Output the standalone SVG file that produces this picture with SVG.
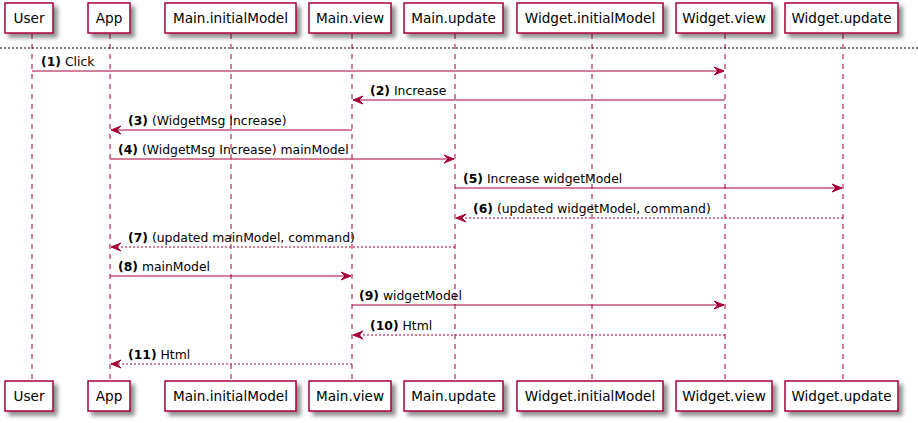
<svg xmlns="http://www.w3.org/2000/svg" width="918" height="423" viewBox="0 0 918 423">
<defs>
<filter id="sh" x="-20%" y="-20%" width="150%" height="160%">
<feGaussianBlur in="SourceAlpha" stdDeviation="2"/>
<feOffset dx="4" dy="4" result="b"/>
<feComponentTransfer><feFuncA type="linear" slope="0.45"/></feComponentTransfer>
<feMerge><feMergeNode/><feMergeNode in="SourceGraphic"/></feMerge>
</filter>
<marker id="ah" viewBox="0 0 11 10" refX="10" refY="5" markerWidth="11" markerHeight="10" markerUnits="userSpaceOnUse" orient="auto">
<polygon points="0,1 10,5 0,9 4,5" fill="#A80036" stroke="#A80036" stroke-width="1"/>
</marker>
</defs>
<style>
.box{fill:#FFFFFF;stroke:#A80036;stroke-width:1.5;filter:url(#sh)}
.pt{font-family:"DejaVu Sans",sans-serif;font-size:13.6px;fill:#000;text-anchor:middle}
.life{stroke:#A80036;stroke-width:1;stroke-dasharray:5,5}
.msg{stroke:#A80036;stroke-width:1;fill:none;marker-end:url(#ah)}
.ret{stroke-dasharray:2,2}
.ml{font-family:"DejaVu Sans",sans-serif;font-size:12.4px;fill:#000}
.ml tspan.n{font-weight:bold}
</style>
<rect width="918" height="423" fill="#FFFFFF"/>
<g id="lifelines">
<line class="life" x1="32" y1="34" x2="32" y2="381"/>
<line class="life" x1="110" y1="34" x2="110" y2="381"/>
<line class="life" x1="231" y1="34" x2="231" y2="381"/>
<line class="life" x1="352" y1="34" x2="352" y2="381"/>
<line class="life" x1="455" y1="34" x2="455" y2="381"/>
<line class="life" x1="592" y1="34" x2="592" y2="381"/>
<line class="life" x1="725" y1="34" x2="725" y2="381"/>
<line class="life" x1="843" y1="34" x2="843" y2="381"/>
</g>
<line x1="0" y1="48" x2="918" y2="48" stroke="#000" stroke-width="1" stroke-dasharray="2,2"/>
<g id="User">
<rect class="box" x="5" y="3" width="48" height="30"/><text class="pt" x="29" y="23">User</text>
<rect class="box" x="5" y="381" width="48" height="30"/><text class="pt" x="29" y="401">User</text>
</g>
<g id="App">
<rect class="box" x="88" y="3" width="42" height="30"/><text class="pt" x="109" y="23">App</text>
<rect class="box" x="88" y="381" width="42" height="30"/><text class="pt" x="109" y="401">App</text>
</g>
<g id="Main.initialModel">
<rect class="box" x="165" y="3" width="131" height="30"/><text class="pt" x="230.5" y="23">Main.initialModel</text>
<rect class="box" x="165" y="381" width="131" height="30"/><text class="pt" x="230.5" y="401">Main.initialModel</text>
</g>
<g id="Main.view">
<rect class="box" x="309" y="3" width="82" height="30"/><text class="pt" x="350" y="23">Main.view</text>
<rect class="box" x="309" y="381" width="82" height="30"/><text class="pt" x="350" y="401">Main.view</text>
</g>
<g id="Main.update">
<rect class="box" x="404" y="3" width="99" height="30"/><text class="pt" x="453.5" y="23">Main.update</text>
<rect class="box" x="404" y="381" width="99" height="30"/><text class="pt" x="453.5" y="401">Main.update</text>
</g>
<g id="Widget.initialModel">
<rect class="box" x="517" y="3" width="146" height="30"/><text class="pt" x="590" y="23">Widget.initialModel</text>
<rect class="box" x="517" y="381" width="146" height="30"/><text class="pt" x="590" y="401">Widget.initialModel</text>
</g>
<g id="Widget.view">
<rect class="box" x="676" y="3" width="96" height="30"/><text class="pt" x="724" y="23">Widget.view</text>
<rect class="box" x="676" y="381" width="96" height="30"/><text class="pt" x="724" y="401">Widget.view</text>
</g>
<g id="Widget.update">
<rect class="box" x="785" y="3" width="113" height="30"/><text class="pt" x="841.5" y="23">Widget.update</text>
<rect class="box" x="785" y="381" width="113" height="30"/><text class="pt" x="841.5" y="401">Widget.update</text>
</g>
<g id="connectors">
<line class="msg" x1="32" y1="71" x2="724" y2="71"/>
<text class="ml" x="41" y="66"><tspan class="n">(1)</tspan> Click</text>
<line class="msg" x1="725" y1="100" x2="353" y2="100"/>
<text class="ml" x="370" y="95"><tspan class="n">(2)</tspan> Increase</text>
<line class="msg" x1="352" y1="130" x2="111" y2="130"/>
<text class="ml" x="128" y="125"><tspan class="n">(3)</tspan> (WidgetMsg Increase)</text>
<line class="msg" x1="110" y1="159" x2="454" y2="159"/>
<text class="ml" x="118" y="154"><tspan class="n">(4)</tspan> (WidgetMsg Increase) mainModel</text>
<line class="msg" x1="455" y1="188" x2="842" y2="188"/>
<text class="ml" x="463" y="183"><tspan class="n">(5)</tspan> Increase widgetModel</text>
<line class="msg ret" x1="843" y1="218" x2="456" y2="218"/>
<text class="ml" x="473" y="213"><tspan class="n">(6)</tspan> (updated widgetModel, command)</text>
<line class="msg ret" x1="455" y1="247" x2="111" y2="247"/>
<text class="ml" x="128" y="242"><tspan class="n">(7)</tspan> (updated mainModel, command)</text>
<line class="msg" x1="110" y1="276" x2="351" y2="276"/>
<text class="ml" x="118" y="271"><tspan class="n">(8)</tspan> mainModel</text>
<line class="msg" x1="352" y1="305" x2="724" y2="305"/>
<text class="ml" x="359" y="300"><tspan class="n">(9)</tspan> widgetModel</text>
<line class="msg ret" x1="725" y1="335" x2="353" y2="335"/>
<text class="ml" x="370" y="330"><tspan class="n">(10)</tspan> Html</text>
<line class="msg ret" x1="352" y1="364" x2="111" y2="364"/>
<text class="ml" x="128" y="359"><tspan class="n">(11)</tspan> Html</text>
</g>
</svg>
